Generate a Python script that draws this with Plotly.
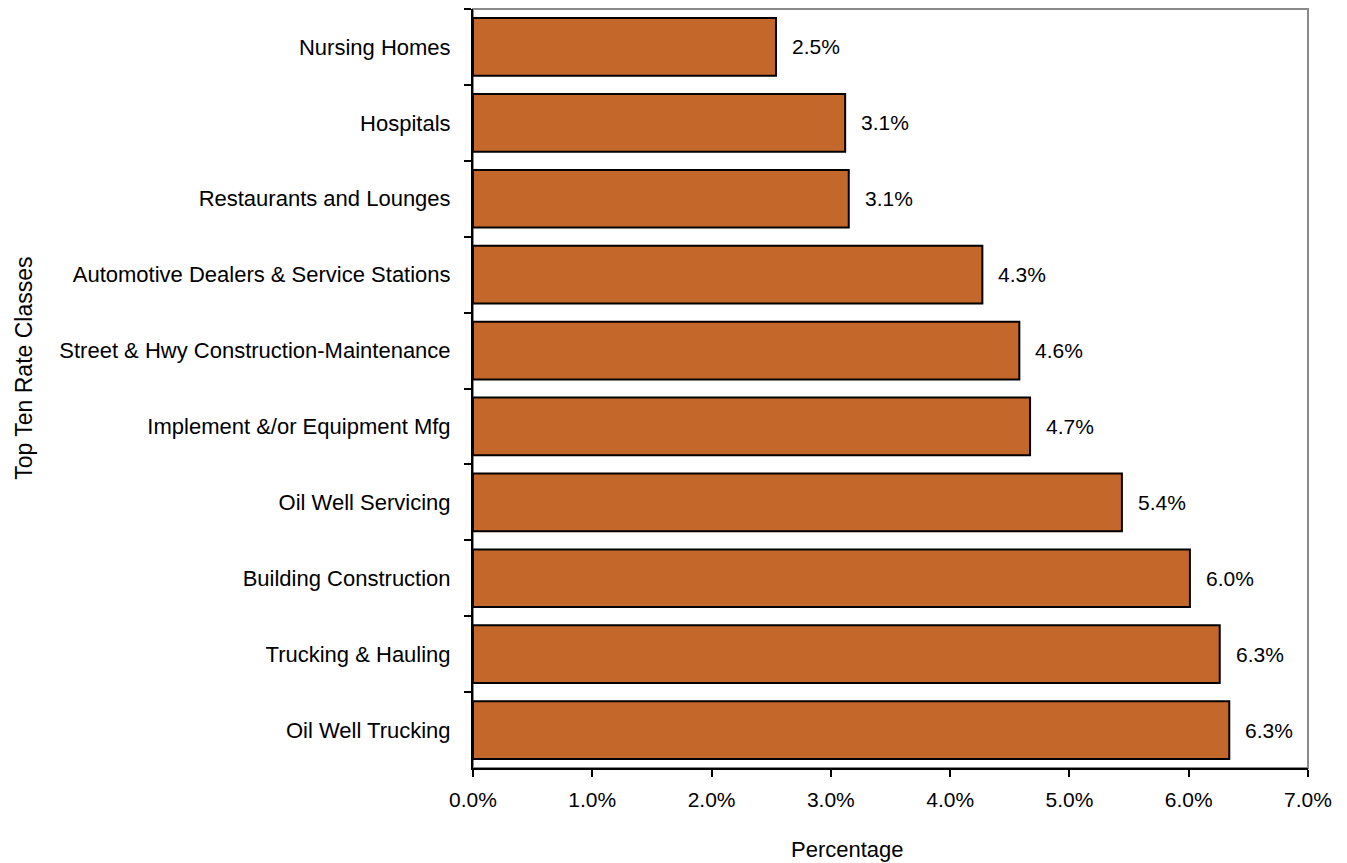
import plotly.graph_objects as go

categories = [
    "Nursing Homes",
    "Hospitals",
    "Restaurants and Lounges",
    "Automotive Dealers & Service Stations",
    "Street & Hwy Construction-Maintenance",
    "Implement &/or Equipment Mfg",
    "Oil Well Servicing",
    "Building Construction",
    "Trucking & Hauling",
    "Oil Well Trucking",
]
values = [2.54, 3.12, 3.15, 4.27, 4.58, 4.67, 5.44, 6.01, 6.26, 6.34]
labels = ["2.5%", "3.1%", "3.1%", "4.3%", "4.6%", "4.7%", "5.4%", "6.0%", "6.3%", "6.3%"]
x_ticks = [0, 1, 2, 3, 4, 5, 6, 7]
x_tick_text = ["0.0%", "1.0%", "2.0%", "3.0%", "4.0%", "5.0%", "6.0%", "7.0%"]

FONT = "Liberation Sans Narrow, Arial Narrow, Liberation Sans, Arial, sans-serif"
REG = "Liberation Sans, Arial, sans-serif"

fig = go.Figure()
fig.add_trace(go.Bar(
    x=values, y=categories, orientation="h",
    marker=dict(color="#C4672B", line=dict(color="black", width=2)),
    hoverinfo="skip",
))

for v, c, t in zip(values, categories, labels):
    fig.add_annotation(x=v, y=c, text=t, showarrow=False, xanchor="left",
                       xshift=14, font=dict(family=FONT, size=21, color="black"))

fig.add_annotation(xref="paper", yref="paper", x=0.448, y=-0.108, text="Percentage",
                   showarrow=False, xanchor="center", yanchor="middle",
                   font=dict(family=FONT, size=22, color="black"))
fig.add_annotation(xref="paper", yref="paper", x=-0.538, y=0.527, text="Top Ten Rate Classes",
                   showarrow=False, textangle=-90, xanchor="center", yanchor="middle",
                   font=dict(family=REG, size=23, color="black"))

fig.add_shape(type="rect", xref="paper", yref="paper", x0=0, x1=1, y0=0, y1=1,
              line=dict(color="#8a8a8a", width=2), layer="below")

fig.update_layout(
    width=1347, height=863,
    margin=dict(l=473, r=39, t=9, b=95),
    plot_bgcolor="white", paper_bgcolor="white",
    bargap=0.24, showlegend=False,
    xaxis=dict(range=[0, 7], tickvals=x_ticks, ticktext=x_tick_text,
               showgrid=False, zeroline=False, showline=True, linecolor="black",
               linewidth=2, ticks="outside", ticklen=7, tickwidth=2, tickcolor="black",
               tickfont=dict(family=FONT, size=21, color="black"), ticklabelstandoff=5),
    yaxis=dict(autorange="reversed", showgrid=False, zeroline=False, showline=True,
               linecolor="black", linewidth=2, ticks="outside", ticklen=7, tickwidth=2,
               tickcolor="black", tickson="boundaries",
               tickfont=dict(family=FONT, size=22, color="black"), ticklabelstandoff=16),
)

fig.write_html("out.html", config={"displayModeBar": False},
               post_script="document.body.style.margin='0';document.body.style.overflow='hidden';")
